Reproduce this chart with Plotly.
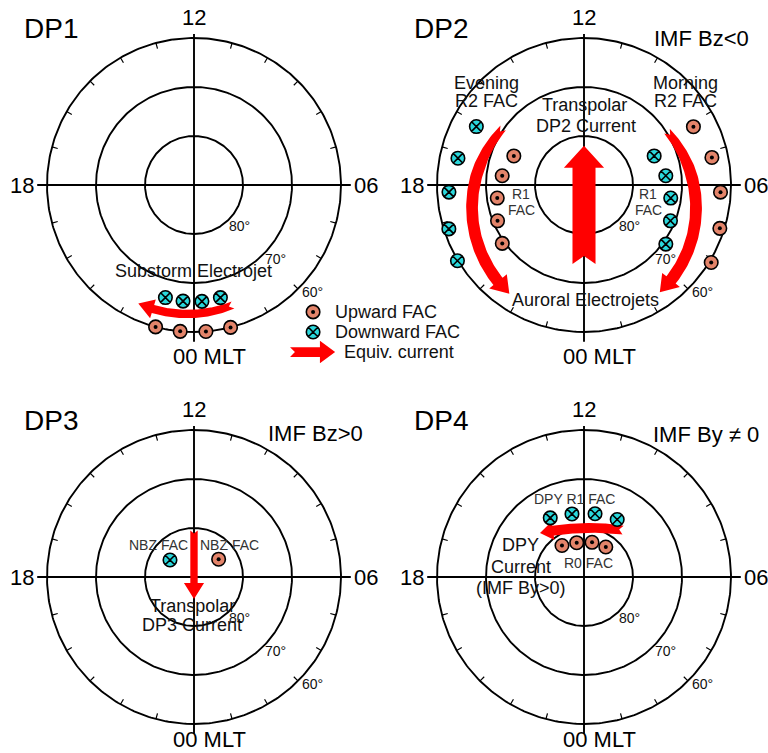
import numpy as np
import plotly.graph_objects as go

# ---------------- values: magnetic local time (h) and magnetic latitude (deg) ----------------
# DP1 - substorm electrojet
dp1_up_mlt = [22.99, 23.64, 0.31, 0.96]
dp1_up_lat = [60.0, 60.0, 60.0, 60.0]
dp1_down_mlt = [23.05, 23.64, 0.26, 0.88]
dp1_down_lat = [66.3, 66.2, 66.2, 66.4]
dp1_jet_mlt = [1.2, 0.0, 22.32]          # tail, middle, head tip
dp1_jet_lat = [64.25, 63.7, 63.3]

# DP2 - two-cell convection (IMF Bz<0)
dp2_r2_eve_mlt = [16.1, 17.2, 18.2, 19.2, 20.06]
dp2_r2_eve_lat = [65.0, 63.7, 62.4, 61.0, 59.9]
dp2_r1_eve_mlt = [16.5, 17.57, 18.57, 19.5, 20.37]
dp2_r1_eve_lat = [74.5, 73.2, 72.1, 70.9, 69.5]
dp2_r2_mor_mlt = [7.87, 6.81, 5.8, 4.82, 3.91]
dp2_r2_mor_lat = [64.7, 63.3, 62.1, 60.9, 59.6]
dp2_r1_mor_mlt = [7.5, 6.43, 5.43, 4.5, 3.61]
dp2_r1_mor_lat = [74.5, 73.2, 72.1, 70.9, 69.4]
dp2_eve_jet_mlt = [15.65, 18.0, 21.7]
dp2_eve_jet_lat = [69.8, 67.6, 63.1]
dp2_mor_jet_mlt = [8.2, 6.0, 2.35]
dp2_mor_jet_lat = [69.8, 67.6, 63.2]
dp2_polar_mlt = [0.0, 12.0]              # tail, tip
dp2_polar_lat = [73.9, 82.0]

# DP3 - NBZ (IMF Bz>0)
dp3_down_mlt = [15.65]
dp3_down_lat = [84.0]
dp3_up_mlt = [8.39]
dp3_up_lat = [83.8]
dp3_polar_mlt = [12.0, 0.0]
dp3_polar_lat = [80.5, 85.5]

# DP4 - DPY (IMF By != 0)
dp4_down_mlt = [13.98, 12.72, 11.34, 10.0]
dp4_down_lat = [76.1, 76.9, 76.9, 76.45]
dp4_up_mlt = [14.33, 12.8, 11.13, 9.6]
dp4_up_lat = [82.16, 82.84, 82.73, 82.43]
dp4_jet_mlt = [9.35, 12.0, 15.0]
dp4_jet_lat = [77.53, 80.0, 77.3]

grid_lats = [80, 70, 60]
hour_ticks = [h for h in range(24) if h % 6]

# ---------------- styling ----------------
FONT = "Liberation Sans, Arial, sans-serif"
UP_COLOR = "#E3846A"
DOWN_COLOR = "#2BD8DC"
RED = "#FF0000"
S = 4.9                      # pixels per degree of colatitude
FIG_W, FIG_H = 768, 753
PANELS = [  # title, centre (px), box (x0, x1, y0, y1 px)
    ("DP1", (194, 185), (0, 384, 0, 378)),
    ("DP2", (584, 185), (388, 768, 0, 378)),
    ("DP3", (194, 577), (0, 384, 382, 753)),
    ("DP4", (584, 577), (388, 768, 382, 753)),
]


def polar_xy(mlt, lat):
    th = np.radians(np.asarray(mlt, float) * 15.0)
    c = 90.0 - np.asarray(lat, float)
    return c * np.sin(th), -c * np.cos(th)


fig = go.Figure()
annotations = []


def refs(k):
    s = "" if k == 0 else str(k + 1)
    return "x" + s, "y" + s


def add(k, **kw):
    xr, yr = refs(k)
    fig.add_trace(go.Scatter(xaxis=xr, yaxis=yr, showlegend=False,
                             hoverinfo="skip", **kw))


def text(k, x, y, t, size, color="#111", **kw):
    xr, yr = refs(k)
    annotations.append(dict(x=x, y=y, xref=xr, yref=yr, text=t,
                            showarrow=False, font=dict(family=FONT, size=size, color=color),
                            **kw))


def polygon(k, pts):
    pts = np.asarray(pts)
    add(k, x=np.append(pts[:, 0], pts[0, 0]), y=np.append(pts[:, 1], pts[0, 1]),
        mode="lines", fill="toself", fillcolor=RED, line=dict(width=0, color=RED))


def circle_through(p1, p2, p3):
    (x1, y1), (x2, y2), (x3, y3) = p1, p2, p3
    d = 2 * (x1 * (y2 - y3) + x2 * (y3 - y1) + x3 * (y1 - y2))
    ux = ((x1**2 + y1**2) * (y2 - y3) + (x2**2 + y2**2) * (y3 - y1) + (x3**2 + y3**2) * (y1 - y2)) / d
    uy = ((x1**2 + y1**2) * (x3 - x2) + (x2**2 + y2**2) * (x1 - x3) + (x3**2 + y3**2) * (x2 - x1)) / d
    return ux, uy, np.hypot(x1 - ux, y1 - uy)


def curved_arrow(k, mlt, lat, width, tail_width, head_len, head_width, notch):
    xs, ys = polar_xy(mlt, lat)
    pts = list(zip(xs, ys))
    cx, cy, R = circle_through(*pts)
    ang = [np.arctan2(py - cy, px - cx) for px, py in pts]
    sweep = (ang[2] - ang[0] + np.pi) % (2 * np.pi) - np.pi
    sgn = np.sign(sweep)
    a_tip = ang[0] + sweep
    a_base = a_tip - sgn * head_len / R
    t = np.linspace(0, 1, 80)
    a = ang[0] + (a_base - ang[0]) * t
    w = tail_width + (width - tail_width) * np.clip(t / 0.3, 0, 1)

    def at(r, aa):
        return np.column_stack([cx + r * np.cos(aa), cy + r * np.sin(aa)])

    outer = at(R + w / 2, a)
    inner = at(R - w / 2, a)[::-1]
    head = np.vstack([at(R + head_width / 2, np.array([a_base])),
                      at(R, np.array([a_tip])),
                      at(R - head_width / 2, np.array([a_base]))])
    tail = at(R, np.array([ang[0] + sgn * notch / R]))
    polygon(k, np.vstack([outer, head, inner, tail]))


def straight_arrow(k, p0, p1, width, head_len, head_width, notch):
    p0, p1 = np.asarray(p0, float), np.asarray(p1, float)
    u = (p1 - p0) / np.linalg.norm(p1 - p0)
    n = np.array([-u[1], u[0]])
    base = p1 - u * head_len
    pts = [p0 + n * width / 2, base + n * width / 2, base + n * head_width / 2, p1,
           base - n * head_width / 2, base - n * width / 2, p0 - n * width / 2, p0 + u * notch]
    polygon(k, pts)


def fac_up(k, mlt, lat):
    x, y = polar_xy(mlt, lat)
    add(k, x=x, y=y, mode="markers",
        marker=dict(symbol="circle", size=13.5, color=UP_COLOR, line=dict(color="black", width=1.6)))
    add(k, x=x, y=y, mode="markers", marker=dict(symbol="circle", size=4, color="black"))


def fac_down(k, mlt, lat):
    x, y = polar_xy(mlt, lat)
    add(k, x=x, y=y, mode="markers",
        marker=dict(symbol="circle-x", size=13.5, color=DOWN_COLOR, line=dict(color="black", width=1.6)))


def dial(k, title, bottom_y):
    th = np.linspace(0, 24, 361)
    for lat in grid_lats:
        x, y = polar_xy(th, np.full_like(th, lat))
        add(k, x=x, y=y, mode="lines", line=dict(color="black", width=1.9))
    # noon-midnight and dawn-dusk lines
    x, y = polar_xy([0, 12], [58.0, 59.2])
    add(k, x=x, y=y, mode="lines", line=dict(color="black", width=1.9))
    x, y = polar_xy([18, 6], [58.0, 58.0])
    add(k, x=x, y=y, mode="lines", line=dict(color="black", width=1.9))
    # hourly ticks on the 60 deg circle
    tx, ty = [], []
    for h in hour_ticks:
        x, y = polar_xy([h, h], [60.0, 61.2])
        tx += list(x) + [None]
        ty += list(y) + [None]
    add(k, x=tx, y=ty, mode="lines", line=dict(color="black", width=1.2))
    # latitude labels
    for lat, off in zip(grid_lats, [2.5, 2.5, 2.6]):
        x, y = polar_xy(3.2, lat - off)
        text(k, float(x), float(y), f"{lat}\u00b0", 14)
    text(k, 0, 34.2, "12", 22, color="black")
    text(k, -35.1, 0, "18", 22, color="black")
    text(k, 35.0, 0, "06", 22, color="black")
    text(k, 3.1, bottom_y, "00 MLT", 22, color="black")
    text(k, -29.2, 31.9, title, 28, color="black")


for k, (title, _, _) in enumerate(PANELS):
    dial(k, title, -35.1 if k < 2 else -33.1)

# ---- DP1 ----
curved_arrow(0, dp1_jet_mlt, dp1_jet_lat, width=1.7, tail_width=1.5,
             head_len=3.2, head_width=4.0, notch=0.9)
fac_down(0, dp1_down_mlt, dp1_down_lat)
fac_up(0, dp1_up_mlt, dp1_up_lat)
text(0, -0.2, -17.6, "Substorm Electrojet", 18)
# key
add(0, x=[24.3], y=[-25.9], mode="markers",
    marker=dict(symbol="circle", size=13.5, color=UP_COLOR, line=dict(color="black", width=1.6)))
add(0, x=[24.3], y=[-25.9], mode="markers", marker=dict(symbol="circle", size=4, color="black"))
add(0, x=[24.3], y=[-30.0], mode="markers",
    marker=dict(symbol="circle-x", size=13.5, color=DOWN_COLOR, line=dict(color="black", width=1.6)))
straight_arrow(0, (19.6, -34.1), (28.8, -34.1), width=2.0, head_len=3.1, head_width=4.6, notch=1.0)
text(0, 28.4, -25.9, "Upward FAC", 18, xanchor="left")
text(0, 28.4, -30.0, "Downward FAC", 18, xanchor="left")
text(0, 30.2, -34.1, "Equiv. current", 18, xanchor="left")

# ---- DP2 ----
curved_arrow(1, dp2_eve_jet_mlt, dp2_eve_jet_lat, width=2.4, tail_width=1.5,
             head_len=3.4, head_width=4.6, notch=1.0)
curved_arrow(1, dp2_mor_jet_mlt, dp2_mor_jet_lat, width=2.4, tail_width=1.5,
             head_len=3.4, head_width=4.6, notch=1.0)
px, py = polar_xy(dp2_polar_mlt, dp2_polar_lat)
straight_arrow(1, (px[0], py[0]), (px[1], py[1]), width=4.7, head_len=4.5, head_width=8.2, notch=1.6)
fac_down(1, dp2_r2_eve_mlt, dp2_r2_eve_lat)
fac_up(1, dp2_r1_eve_mlt, dp2_r1_eve_lat)
fac_up(1, dp2_r2_mor_mlt, dp2_r2_mor_lat)
fac_down(1, dp2_r1_mor_mlt, dp2_r1_mor_lat)
text(1, 23.9, 30.0, "IMF Bz&lt;0", 22, color="black")
text(1, -19.8, 20.8, "Evening", 18)
text(1, -19.8, 17.1, "R2 FAC", 18)
text(1, 20.8, 20.8, "Morning", 18)
text(1, 20.8, 17.1, "R2 FAC", 18)
text(1, 0, 16.3, "Transpolar", 18)
text(1, 0.4, 12.0, "DP2 Current", 18)
text(1, -12.9, -1.8, "R1", 14, color="#333")
text(1, -12.7, -5.1, "FAC", 14, color="#333")
text(1, 13.1, -1.8, "R1", 14, color="#333")
text(1, 13.1, -5.1, "FAC", 14, color="#333")
text(1, 0.4, -23.5, "Auroral Electrojets", 18)

# ---- DP3 ----
px, py = polar_xy(dp3_polar_mlt, dp3_polar_lat)
straight_arrow(2, (px[0], py[0]), (px[1], py[1]), width=1.5, head_len=3.3, head_width=4.1, notch=0.6)
fac_down(2, dp3_down_mlt, dp3_down_lat)
fac_up(2, dp3_up_mlt, dp3_up_lat)
text(2, 24.7, 29.2, "IMF Bz&gt;0", 22, color="black")
text(2, -7.3, 6.5, "NBZ FAC", 14, color="#333")
text(2, 7.3, 6.5, "NBZ FAC", 14, color="#333")
text(2, -0.4, -5.9, "Transpolar", 18)
text(2, -0.4, -9.8, "DP3 Current", 18)

# ---- DP4 ----
curved_arrow(3, dp4_jet_mlt, dp4_jet_lat, width=2.0, tail_width=1.8,
             head_len=2.7, head_width=3.8, notch=0.8)
fac_down(3, dp4_down_mlt, dp4_down_lat)
fac_up(3, dp4_up_mlt, dp4_up_lat)
text(3, 24.9, 29.0, "IMF By \u2260 0", 22, color="black")
text(3, -2.0, 15.9, "DPY R1 FAC", 14, color="#333")
text(3, 1.0, 2.9, "R0 FAC", 14, color="#333")
text(3, -12.9, 6.5, "DPY", 18)
text(3, -12.9, 2.0, "Current", 18)
text(3, -12.9, -2.2, "(IMF By&gt;0)", 18)

# ---------------- axes: one equal-scale frame per dial ----------------
layout_axes = {}
for k, (_, (cx, cy), (x0, x1, y0, y1)) in enumerate(PANELS):
    s = "" if k == 0 else str(k + 1)
    layout_axes["xaxis" + s] = dict(domain=[x0 / FIG_W, x1 / FIG_W],
                                    range=[(x0 - cx) / S, (x1 - cx) / S],
                                    visible=False, fixedrange=True,
                                    anchor="y" + s)
    layout_axes["yaxis" + s] = dict(domain=[1 - y1 / FIG_H, 1 - y0 / FIG_H],
                                    range=[-(y1 - cy) / S, (cy - y0) / S],
                                    visible=False, fixedrange=True,
                                    anchor="x" + s)

fig.update_layout(width=FIG_W, height=FIG_H, margin=dict(l=0, r=0, t=0, b=0),
                  paper_bgcolor="white", plot_bgcolor="white",
                  font=dict(family=FONT), annotations=annotations, **layout_axes)

fig.write_html("out.html", config={"displayModeBar": False})
